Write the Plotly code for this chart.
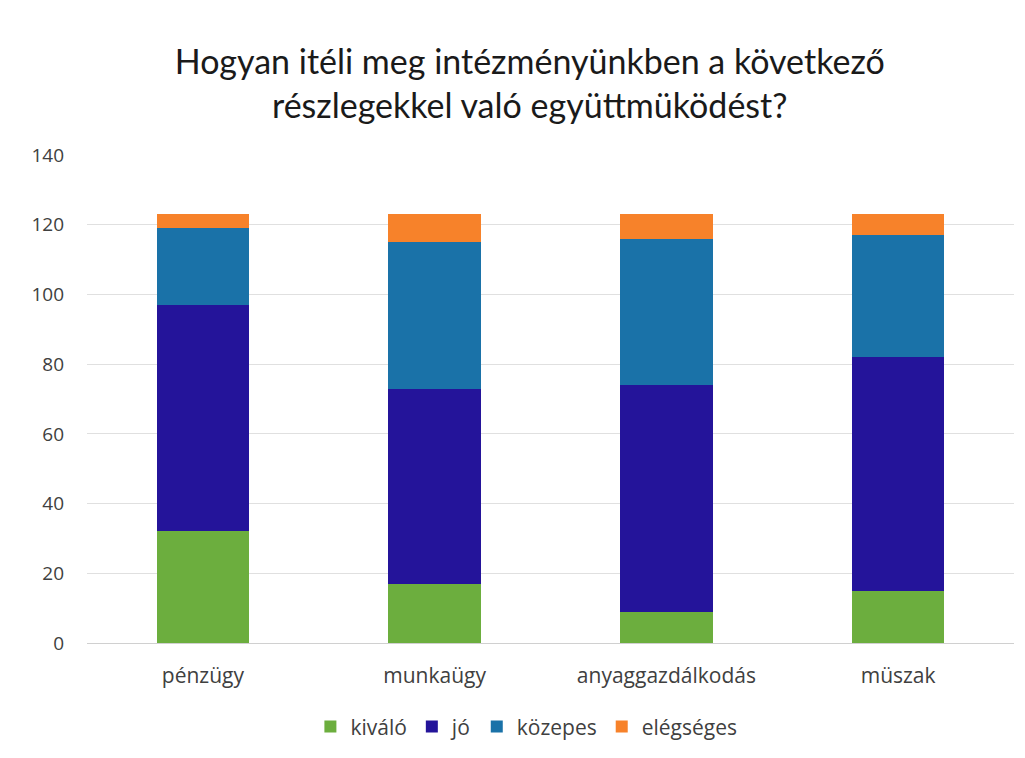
import plotly.graph_objects as go

categories = ["pénzügy", "munkaügy", "anyaggazdálkodás", "müszak"]
kivalo = [32, 17, 9, 15]
jo = [65, 56, 65, 67]
kozepes = [22, 42, 42, 35]
elegseges = [4, 8, 7, 6]
series_names = ["kiváló", "jó", "közepes", "elégséges"]
colors = ["#6CAE3E", "#24149A", "#1A72A8", "#F7822A"]
y_ticks = [0, 20, 40, 60, 80, 100, 120, 140]

TFONT = "Lato"
FONT = "Open Sans"

fig = go.Figure()
for name, vals, col in zip(series_names, [kivalo, jo, kozepes, elegseges], colors):
    fig.add_trace(go.Bar(x=categories, y=vals, name=name, marker=dict(color=col, line=dict(width=0))))

fig.update_layout(
    barmode="stack",
    bargap=0.6,
    width=1025, height=758,
    paper_bgcolor="white", plot_bgcolor="white",
    margin=dict(l=79, r=19, t=147, b=123),
    font=dict(family=FONT, color="#404040", size=19),
    title=dict(
        text="Hogyan itéli meg intézményünkben a következő<br>részlegekkel való együttmüködést?",
        x=0.509, xanchor="center", y=0.913, yanchor="top",
        font=dict(family=TFONT, size=34, color="#1a1a1a"),
    ),
    xaxis=dict(showgrid=False, showline=False, ticks="", tickfont=dict(size=21, color="#404040"),
               ticklabelstandoff=18),
    yaxis=dict(range=[0, 140], tickvals=y_ticks, showgrid=True, gridcolor="#e0e0e0", gridwidth=1,
               zeroline=True, zerolinecolor="#d0d0d0", zerolinewidth=1,
               showline=False, ticks="", tickfont=dict(size=19, color="#404040"), ticklabelstandoff=22),
    legend=dict(orientation="h", x=0.474, xanchor="center", y=-0.172, yanchor="middle",
                font=dict(size=21, color="#404040"), itemwidth=30, traceorder="normal"),
)

fig.write_html("out.html")
